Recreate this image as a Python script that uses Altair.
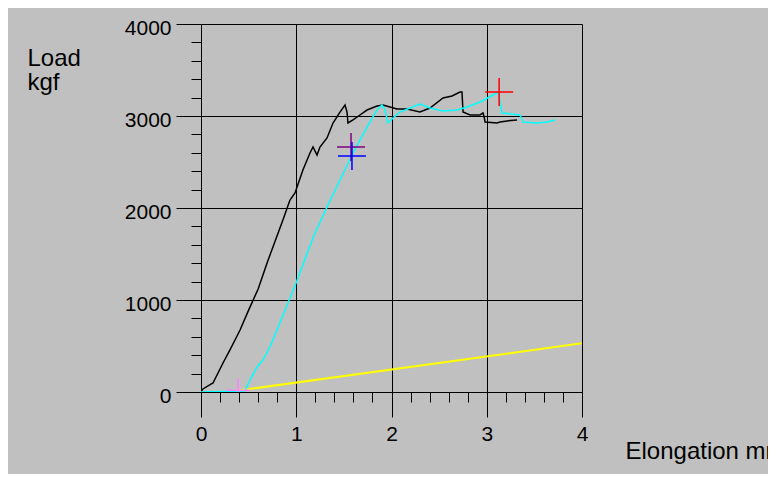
import altair as alt
import pandas as pd

# ---- data ----
black_mm = [0, 0.02, 0.126, 0.231, 0.304, 0.357, 0.41, 0.5, 0.6, 0.7, 0.795, 0.86, 0.934, 0.987,
            1.07, 1.144, 1.176, 1.218, 1.249, 1.323, 1.386, 1.459, 1.512, 1.533, 1.543, 1.596,
            1.669, 1.743, 1.848, 1.911, 1.984, 2.058, 2.163, 2.299, 2.404, 2.541, 2.635, 2.719,
            2.740, 2.751, 2.824, 2.929, 2.961, 2.975, 2.982, 3.108, 3.139, 3.213, 3.318]
black_kgf = [0, 33, 98, 315, 457, 565, 674, 890, 1120, 1420, 1688, 1870, 2087, 2163,
             2413, 2598, 2663, 2576, 2663, 2761, 2924, 3043, 3120, 3043, 2924, 2957,
             3011, 3065, 3109, 3120, 3098, 3076, 3076, 3043, 3087, 3196, 3217, 3261,
             3261, 3043, 3011, 3011, 3033, 2978, 2935, 2924, 2935, 2946, 2957]

cyan_mm = [0, 0.46, 0.514, 0.588, 0.651, 0.724, 0.798, 1.0, 1.18, 1.323, 1.459, 1.596, 1.743,
           1.848, 1.900, 1.932, 1.963, 2.016, 2.089, 2.194, 2.299, 2.404, 2.541, 2.688, 2.793,
           2.929, 3.066, 3.118, 3.139, 3.160, 3.349, 3.381, 3.528, 3.633, 3.717]
cyan_kgf = [0, 11, 130, 272, 348, 489, 674, 1190, 1688, 2011, 2304, 2598, 2880,
            3065, 3120, 3065, 2924, 2978, 3043, 3087, 3130, 3087, 3054, 3065, 3098,
            3152, 3228, 3261, 3152, 3033, 3011, 2935, 2924, 2935, 2957]

yellow_mm = [0.28, 4.0]
yellow_kgf = [0, 530]

marker_names = ["pink", "purple", "blue", "red"]
marker_mm = [0.39, 1.575, 1.585, 3.13]
marker_kgf = [20, 2663, 2565, 3261]
marker_colors = ["#ff80ff", "#800080", "#0000ff", "#ff0000"]
marker_sizes = [576, 784, 784, 784]

x_tick_values = [0, 0.2, 0.4, 0.6, 0.8, 1, 1.2, 1.4, 1.6, 1.8, 2, 2.2, 2.4, 2.6, 2.8,
                 3, 3.2, 3.4, 3.6, 3.8, 4]
y_tick_values = [0, 200, 400, 600, 800, 1000, 1200, 1400, 1600, 1800, 2000, 2200, 2400,
                 2600, 2800, 3000, 3200, 3400, 3600, 3800, 4000]

x_title = "Elongation mm"
y_title = ["Load", "kgf"]

FONT = "Liberation Sans"

x_major = "datum.value % 1 === 0"
y_major = "datum.value % 1000 === 0"

x_axis = alt.Axis(
    values=x_tick_values,
    grid=True, gridColor="black", gridWidth=1,
    gridOpacity={"condition": {"test": x_major, "value": 1}, "value": 0},
    tickColor="black", tickWidth=1,
    tickSize={"condition": {"test": x_major, "value": 25}, "value": 10},
    domainColor="black", domainWidth=1,
    labelExpr="datum.value % 1 === 0 ? '' + datum.value : ''",
    labelFont=FONT, labelFontSize=21, labelColor="black", labelPadding=6,
    labelOverlap=False, labelFlush=False, labelBound=False,
    title=x_title, titleFont=FONT, titleFontSize=24, titleFontWeight="normal",
    titleColor="black", titleAlign="left", titleBaseline="alphabetic",
    titleX=424, titleY=66, titleAngle=0,
)

y_axis = alt.Axis(
    values=y_tick_values,
    grid=True, gridColor="black", gridWidth=1,
    gridOpacity={"condition": {"test": y_major, "value": 1}, "value": 0},
    tickColor="black", tickWidth=1,
    tickSize={"condition": {"test": y_major, "value": 25}, "value": 10},
    domainColor="black", domainWidth=1,
    labelExpr="datum.value % 1000 === 0 ? '' + datum.value : ''",
    labelFont=FONT, labelFontSize=21, labelColor="black", labelPadding=5,
    labelOffset=4, labelBaseline="middle",
    labelOverlap=False, labelFlush=False, labelBound=False,
    title=y_title, titleFont=FONT, titleFontSize=24, titleFontWeight="normal",
    titleColor="black", titleAlign="left", titleBaseline="top", titleLineHeight=24,
    titleX=-174, titleY=22, titleAngle=0,
)

X = alt.X("mm:Q", scale=alt.Scale(domain=[0, 4], nice=False, zero=False), axis=x_axis)
Y = alt.Y("kgf:Q", scale=alt.Scale(domain=[0, 4000], nice=False, zero=False), axis=y_axis)


def line_layer(mm, kgf, color, width):
    df = pd.DataFrame({"mm": mm, "kgf": kgf, "i": list(range(len(mm)))})
    return alt.Chart(df).mark_line(color=color, strokeWidth=width, clip=True).encode(
        x=X, y=Y, order="i:Q")


layers = [
    line_layer(yellow_mm, yellow_kgf, "#ffff00", 2),
    line_layer(black_mm, black_kgf, "black", 1.5),
    line_layer(cyan_mm, cyan_kgf, "#00ffff", 1.5),
]

cross = "M-1,0L1,0M0,-1L0,1"
for name, mmv, kv, col, sz in zip(marker_names, marker_mm, marker_kgf, marker_colors, marker_sizes):
    dfm = pd.DataFrame({"mm": [mmv], "kgf": [kv], "name": [name]})
    layers.append(
        alt.Chart(dfm).mark_point(shape=cross, filled=False, stroke=col, strokeWidth=1.5,
                                  size=sz, opacity=1, clip=True).encode(x=X, y=Y)
    )

chart = alt.layer(*layers).properties(
    width=381, height=368,
    autosize="none",
    padding={"left": 193, "top": 16, "right": 186, "bottom": 82},
    background="#c0c0c0",
).configure_view(stroke="transparent")

chart.save("out.html", embed_options={"renderer": "svg", "actions": False})
